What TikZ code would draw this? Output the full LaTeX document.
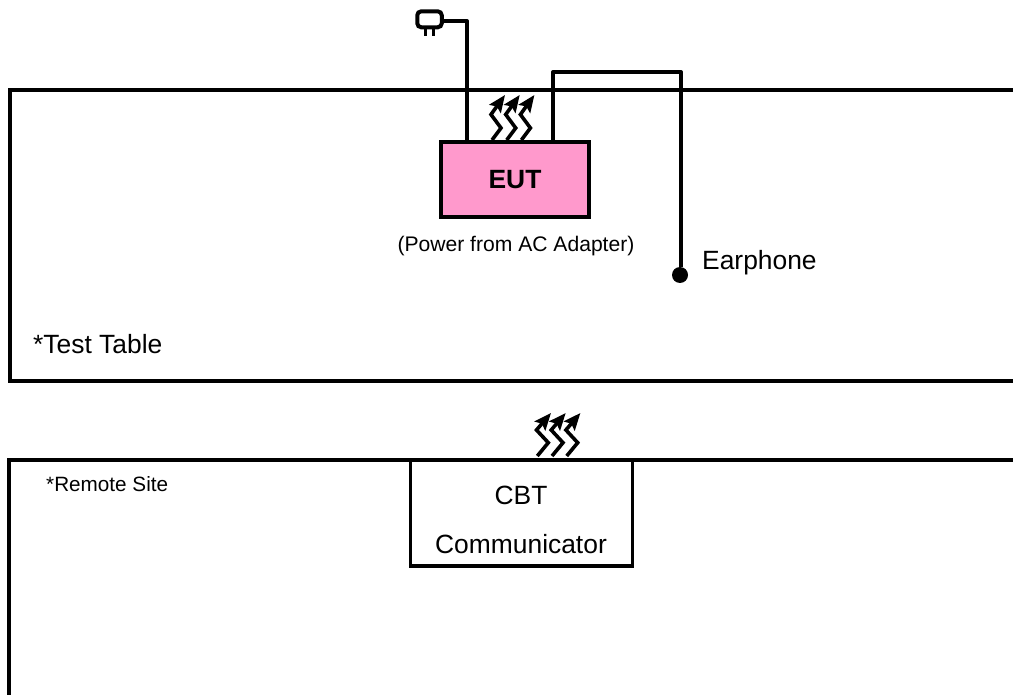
\documentclass[tikz,border=0pt]{standalone}
\usepackage{fontspec}
\setmainfont{Liberation Sans}
\usetikzlibrary{arrows.meta}
\definecolor{eutpink}{HTML}{FF99CC}
\tikzset{
  x=1pt,y=-1pt,
  wire/.style={draw=black,line width=4pt,line join=round},
  frameline/.style={draw=black,line width=3.6pt},
  box/.style={draw=black,line width=3.6pt,inner sep=0pt,outer sep=0pt,minimum width=#1},
  lbl/.style={inner sep=0pt,font=\fontsize{26.4}{30}\selectfont},
  small/.style={inner sep=0pt,font=\fontsize{21.1}{25}\selectfont},
  wave/.style={draw=black,line width=3.6pt,-{Stealth[length=17pt,width=14pt,inset=3pt]}},
  plugbody/.style={draw=black,line width=4pt,rounded corners=4pt,fill=white,minimum width=24.5pt,minimum height=16pt,inner sep=0pt,outer sep=2pt},
}
\begin{document}
\begin{tikzpicture}
\useasboundingbox (0,0) rectangle (1013,695);
% frames
\coordinate (tr) at (1013,90);
\coordinate (tl) at (10,90);
\coordinate (bl) at (10,381);
\coordinate (br) at (1013,381);
\draw[frameline,line join=miter] (tr) -- (tl) -- (bl) -- (br);
\coordinate (rt) at (1013,460);
\coordinate (rl) at (9,460);
\coordinate (rb) at (9,695);
\draw[frameline,line join=miter] (rt) -- (rl) -- (rb);
% EUT
\node[box=148pt,minimum height=75pt,fill=eutpink] (eut) at (515,179.5) {};
\node[lbl,font=\fontsize{26.4}{30}\selectfont\bfseries] (eutl) at (515,179.5) {EUT};
\node[small] (power) at (516,246) {(Power from AC Adapter)};
% plug
\node[plugbody] (plug) at (429.5,19.3) {};
\coordinate (p1) at (425,28);
\coordinate (p1e) at (425,36.5);
\coordinate (p2) at (433.5,28);
\coordinate (p2e) at (433.5,36.5);
\draw[line width=3pt] (p1) -- (p1e);
\draw[line width=3pt] (p2) -- (p2e);
\coordinate (c1) at (467,21);
\draw[wire] (plug.east|-c1) -- (c1) -- (c1|-eut.north);
% earphone
\node[circle,fill=black,inner sep=0pt,minimum size=16pt] (dot) at (680,275) {};
\coordinate (c2) at (553.2,72);
\coordinate (c3) at (681,72);
\draw[wire] (c2|-eut.north) -- (c2) -- (c3) -- (c3|-dot.north);
\node[lbl,anchor=base west] (earph) at (702,270) {Earphone};
% labels
\node[lbl,anchor=base west] (tt) at (33,354) {*Test Table};
\node[small,font=\fontsize{20.7}{25}\selectfont,anchor=base west] (rs) at (46,491) {*Remote Site};
% CBT
\node[box=222pt,minimum height=106pt,fill=white,draw] (cbt) at (521.5,513) {};
\node[lbl] (cbt1) at (521,495) {CBT};
\node[lbl] (cbt2) at (521,544) {Communicator};
% waves
\foreach \d in {0,14.7,29.4}{
  \draw[wave] (492+\d,140) -- (501+\d,128) -- (491+\d,114.5) -- (505+\d,95);
  \draw[wave] (537.3+\d,456) -- (548.3+\d,442.7) -- (536.5+\d,430) -- (551+\d,413);
}
\end{tikzpicture}
\end{document}
